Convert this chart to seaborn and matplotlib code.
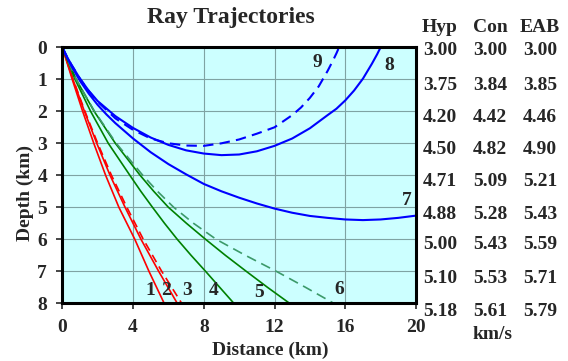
import matplotlib
matplotlib.use("Agg")
import matplotlib.pyplot as plt
import seaborn as sns
import pandas as pd

sns.set_style("ticks")
plt.rcParams["font.family"] = ["Liberation Serif", "DejaVu Serif"]
plt.rcParams["font.weight"] = "bold"

# ---- data ----
ray_depths_a = [0, 1, 2, 3, 4, 5, 6, 7, 8]
ray1_x = [0, 0.56, 1.15, 1.78, 2.45, 3.20, 4.10, 4.90, 5.76]
ray2_x = [0, 0.60, 1.25, 1.95, 2.70, 3.55, 4.45, 5.45, 6.50]
ray3_x = [0, 0.61, 1.28, 2.00, 2.78, 3.65, 4.58, 5.62, 6.75]

ray_depths_b = [0, 1, 2, 3, 4, 4.5, 5, 5.5, 6, 6.5, 7, 7.5, 8]
ray4_x = [0, 0.72, 1.60, 2.60, 3.82, 4.44, 5.10, 5.78, 6.50, 7.28, 8.10, 8.90, 9.70]
ray5_x = [0, 0.78, 1.80, 3.00, 4.40, 5.17, 6.00, 7.02, 8.10, 9.22, 10.40, 11.60, 12.85]
ray6_x = [0, 0.78, 1.82, 3.05, 4.55, 5.38, 6.30, 7.42, 8.70, 10.35, 12.10, 13.75, 15.35]

ray7_x = [0, 0.25, 0.5, 1, 1.5, 2, 2.5, 3, 4, 5, 6, 7, 8, 9, 10, 11, 12, 13, 14, 15, 16, 17, 18, 19, 20]
ray7_d = [0, 0.30, 0.57, 1.05, 1.45, 1.80, 2.10, 2.37, 2.85, 3.28, 3.65, 3.97, 4.27, 4.50, 4.70,
          4.88, 5.04, 5.17, 5.27, 5.33, 5.38, 5.40, 5.38, 5.33, 5.26]
ray8_x = [0, 0.25, 0.5, 1, 1.5, 2, 3, 4, 5, 6, 7, 8, 9, 10, 11, 12, 13, 14, 15, 15.5, 16,
          16.5, 17, 17.5, 17.8, 18]
ray8_d = [0, 0.28, 0.53, 0.98, 1.36, 1.68, 2.15, 2.52, 2.82, 3.05, 3.22, 3.32, 3.37, 3.35, 3.25,
          3.08, 2.85, 2.53, 2.12, 1.92, 1.66, 1.35, 0.98, 0.52, 0.22, 0]
ray9_x = [0, 0.25, 0.5, 1, 1.5, 2, 3, 4, 5, 6, 7, 8, 9, 10, 11, 12, 13, 13.5, 14, 14.5, 15,
          15.3, 15.5, 15.65]
ray9_d = [0, 0.28, 0.53, 0.98, 1.37, 1.70, 2.22, 2.58, 2.85, 3.00, 3.07, 3.08, 3.00, 2.88, 2.70,
          2.50, 2.12, 1.88, 1.58, 1.22, 0.74, 0.42, 0.19, 0]

ray_labels = ["1", "2", "3", "4", "5", "6", "7", "8", "9"]
label_x = [4.98, 5.85, 7.08, 8.57, 11.10, 15.66, 19.50, 18.51, 14.42]
label_d = [7.60, 7.60, 7.60, 7.60, 7.66, 7.58, 4.80, 0.57, 0.47]

x_ticks = [0, 4, 8, 12, 16, 20]
y_ticks = [0, 1, 2, 3, 4, 5, 6, 7, 8]

table_headers = ["Hyp", "Con", "EAB"]
hyp_v = [3.00, 3.75, 4.20, 4.50, 4.71, 4.88, 5.00, 5.10, 5.18]
con_v = [3.00, 3.84, 4.42, 4.82, 5.09, 5.28, 5.43, 5.53, 5.61]
eab_v = [3.00, 3.85, 4.46, 4.90, 5.21, 5.43, 5.59, 5.71, 5.79]
unit_text = "km/s"

# ---- build long table ----
rows = []
for name, xs in zip(["1", "2", "3"], [ray1_x, ray2_x, ray3_x]):
    for xv, dv in zip(xs, ray_depths_a):
        rows.append((name, xv, dv))
for name, xs in zip(["4", "5", "6"], [ray4_x, ray5_x, ray6_x]):
    for xv, dv in zip(xs, ray_depths_b):
        rows.append((name, xv, dv))
for name, xs, ds in zip(["7", "8", "9"], [ray7_x, ray8_x, ray9_x], [ray7_d, ray8_d, ray9_d]):
    for xv, dv in zip(xs, ds):
        rows.append((name, xv, dv))
df = pd.DataFrame(rows, columns=["ray", "x", "depth"])

styles = {
    "1": ("#FF0000", 1.2, None),
    "2": ("#FF0000", 1.2, None),
    "3": ("#FF0000", 1.2, (5, 3)),
    "4": ("#008000", 1.2, None),
    "5": ("#008000", 1.2, None),
    "6": ("#3C9A6A", 1.2, (6, 3.5)),
    "7": ("#0000FF", 1.5, None),
    "8": ("#0000FF", 1.5, None),
    "9": ("#0000FF", 1.5, (5, 3)),
}

W, H = 568, 361
fig = plt.figure(figsize=(W / 100, H / 100), dpi=100)
ax = fig.add_axes([62.3 / W, 1 - 303.3 / H, (416 - 62.3) / W, (303.3 - 47.3) / H])
ax.set_facecolor("#CCFFFF")

for name in ray_labels:
    color, lw, dash = styles[name]
    sns.lineplot(data=df[df["ray"] == name], x="x", y="depth", sort=False, estimator=None,
                 color=color, linewidth=lw, ax=ax, legend=False)
    ax.lines[-1].set_solid_joinstyle("round")
    if dash is not None:
        ax.lines[-1].set_dashes(dash)

ax.set_xlim(0, 20)
ax.set_ylim(8, 0)
ax.set_xticks(x_ticks)
ax.set_yticks(y_ticks)
ax.set_xlabel("")
ax.set_ylabel("")
ax.set_axisbelow(True)
ax.grid(True, color="#7FA3A3", linewidth=0.8)
for s in ax.spines.values():
    s.set_visible(True)
    s.set_color("black")
    s.set_linewidth(2.2)
ax.tick_params(direction="out", length=4, width=1.2, labelsize=14, pad=7)
for lab in ax.get_xticklabels() + ax.get_yticklabels():
    lab.set_fontweight("bold")

for t, xv, dv in zip(ray_labels, label_x, label_d):
    ax.text(xv, dv, t, fontsize=14, fontweight="bold", ha="center", va="center")

fig.text(231 / W, 1 - 17 / H, "Ray Trajectories", fontsize=17, fontweight="bold",
         ha="center", va="center")
fig.text(270 / W, 1 - 350 / H, "Distance (km)", fontsize=14, fontweight="bold",
         ha="center", va="center")
fig.text(25 / W, 1 - 193 / H, "Depth (km)", fontsize=14, fontweight="bold",
         ha="center", va="center", rotation=90)

col_x = [440, 490, 540]
row_base = [55, 90, 121.7, 154, 186, 219, 249.3, 282.7, 316]
for cx, h in zip(col_x, table_headers):
    fig.text(cx / W, 1 - 31.7 / H, h, fontsize=14, fontweight="bold", ha="center", va="baseline")
for cx, vals in zip(col_x, [hyp_v, con_v, eab_v]):
    for yb, v in zip(row_base, vals):
        fig.text(cx / W, 1 - yb / H, f"{v:.2f}", fontsize=14, fontweight="bold",
                 ha="center", va="baseline")
fig.text(493 / W, 1 - 339 / H, unit_text, fontsize=14, fontweight="bold", ha="center", va="baseline")

fig.savefig("out.png", dpi=100)
